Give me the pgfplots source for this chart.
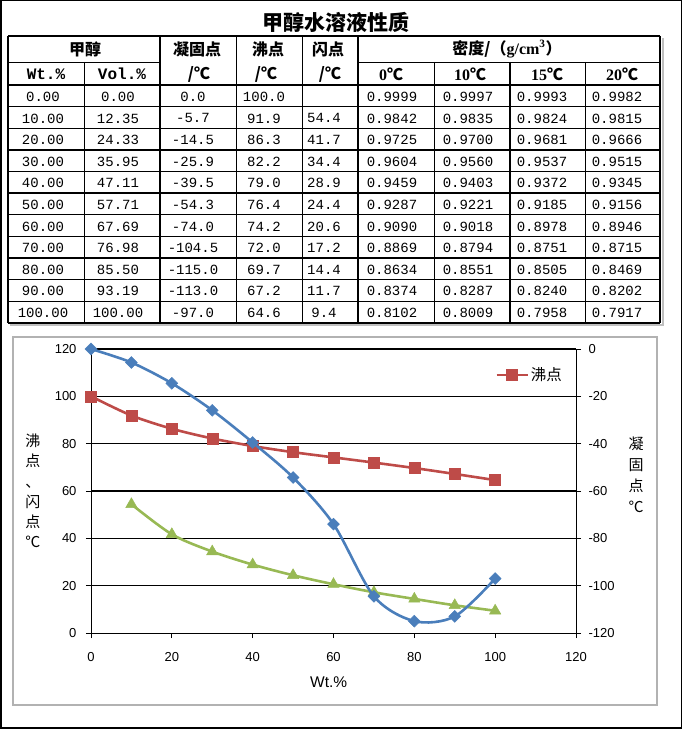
\documentclass[border=0pt]{standalone}
\usepackage{pgfplots}
\pgfplotsset{compat=1.18}
\usepackage{fontspec}
\setmainfont{Liberation Sans}
\newfontfamily\cjk{Noto Sans CJK SC}
\newfontfamily\monof{Liberation Mono}
\newfontfamily\seriff{Liberation Serif}
\definecolor{cblue}{HTML}{4A7EBB}
\definecolor{cred}{HTML}{BE4B48}
\definecolor{cgreen}{HTML}{98B954}
\begin{document}
\begin{tikzpicture}
\useasboundingbox (0,0) rectangle (682pt,729pt);
\begin{scope}[x=1pt,y=1pt]
\draw[line width=1.5pt] (0.75,0.75) rectangle (681.25,728.25);
\node[font=\cjk\bfseries\fontsize{21}{24}\selectfont] at (336,707) {甲醇水溶液性质};
% table shadow
\draw[gray!50, line width=2pt] (662.5,729-38) -- (662.5,729-325.5) -- (10,729-325.5);
% horizontal lines
\draw[line width=2pt] (8,729-36) -- (660,729-36);
\draw[line width=0.8pt] (8,729-62) -- (160,729-62);
\draw[line width=0.8pt] (358,729-62) -- (660,729-62);
\draw[line width=2pt] (8,729-85) -- (660,729-85);
\foreach \k in {1,2,4,6,7,9,10} {\draw[line width=0.8pt] (8,729-85-21.6*\k) -- (660,729-85-21.6*\k);}
\foreach \k in {3,5,8} {\draw[line width=1.8pt] (8,729-85-21.6*\k) -- (660,729-85-21.6*\k);}
\draw[line width=2pt] (8,729-323) -- (660,729-323);
% vertical lines
\draw[line width=2pt] (8,729-36) -- (8,729-323);
\draw[line width=0.8pt] (84,729-62) -- (84,729-323);
\draw[line width=2pt] (160,729-36) -- (160,729-323);
\draw[line width=0.8pt] (236,729-36) -- (236,729-323);
\draw[line width=0.8pt] (302,729-36) -- (302,729-323);
\draw[line width=2pt] (358,729-36) -- (358,729-323);
\draw[line width=0.8pt] (434,729-62) -- (434,729-323);
\draw[line width=2pt] (510,729-62) -- (510,729-323);
\draw[line width=0.8pt] (585,729-62) -- (585,729-323);
\draw[line width=2pt] (660,729-36) -- (660,729-323);
% header text
\begin{scope}[every node/.style={font=\cjk\bfseries\fontsize{16}{18}\selectfont}]
\node at (85,729-49) {甲醇};
\node at (46,729-74) {{\monof\bfseries Wt.\%}};
\node at (122,729-74) {{\monof\bfseries Vol.\%}};
\node at (197,729-49) {凝固点};
\node at (199,729-74) {/℃};
\node at (268,729-49) {沸点};
\node at (266,729-74) {/℃};
\node at (328,729-49) {闪点};
\node at (330,729-74) {/℃};
\node at (507,729-49) {密度/（{\seriff\bfseries g/cm}\textsuperscript{\seriff\bfseries 3}）};
\node at (391,729-74) {{\seriff\bfseries 0}℃};
\node at (470,729-74) {{\seriff\bfseries 10}℃};
\node at (547,729-74) {{\seriff\bfseries 15}℃};
\node at (622,729-74) {{\seriff\bfseries 20}℃};
\end{scope}
% data text
\begin{scope}[every node/.style={font=\monof\fontsize{14}{16}\selectfont}]
\foreach \a/\b/\c/\d/\e/\f/\g/\h/\i [count=\k from 0] in {
0.00/0.00/0.0/100.0//0.9999/0.9997/0.9993/0.9982,
10.00/12.35/-5.7/91.9/54.4/0.9842/0.9835/0.9824/0.9815,
20.00/24.33/-14.5/86.3/41.7/0.9725/0.9700/0.9681/0.9666,
30.00/35.95/-25.9/82.2/34.4/0.9604/0.9560/0.9537/0.9515,
40.00/47.11/-39.5/79.0/28.9/0.9459/0.9403/0.9372/0.9345,
50.00/57.71/-54.3/76.4/24.4/0.9287/0.9221/0.9185/0.9156,
60.00/67.69/-74.0/74.2/20.6/0.9090/0.9018/0.8978/0.8946,
70.00/76.98/-104.5/72.0/17.2/0.8869/0.8794/0.8751/0.8715,
80.00/85.50/-115.0/69.7/14.4/0.8634/0.8551/0.8505/0.8469,
90.00/93.19/-113.0/67.2/11.7/0.8374/0.8287/0.8240/0.8202,
100.00/100.00/-97.0/64.6/9.4/0.8102/0.8009/0.7958/0.7917} {
\pgfmathsetmacro{\yy}{729-96.8-21.6*\k}
\node at (43,\yy) {\a};
\node at (118,\yy) {\b};
\node at (193,\yy) {\c};
\node at (264,\yy) {\d};
\node at (324,\yy) {\e};
\node at (392,\yy) {\f};
\node at (468,\yy) {\g};
\node at (542,\yy) {\h};
\node at (617,\yy) {\i};
}
\end{scope}
% chart box
\draw[gray!60, line width=1.5pt] (13,729-337) rectangle (657,729-705);
\end{scope}

\pgfplotsset{
  common/.style={
    at={(91pt,96pt)}, anchor=south west, scale only axis,
    width=485pt, height=284pt, xmin=0, xmax=120, clip=false,
    tick align=outside, major tick length=5pt,
    tick style={black, line width=0.8pt},
    axis line style={black, line width=0.8pt, -},
    /pgf/number format/assume math mode=true,
    ticklabel style={font=\fontsize{13}{15}\selectfont},
  }
}
\begin{axis}[common,
  ymin=0, ymax=120,
  axis x line*=bottom, axis y line*=left,
  xtick={0,20,...,120}, ytick={0,20,...,120},
  ymajorgrids, grid style={black, line width=0.8pt},
  extra y ticks={60,120}, extra y tick labels={},
  extra y tick style={grid style={black, line width=2pt}, major tick length=0pt},
  xticklabel style={yshift=-11pt},
  yticklabel style={xshift=-6pt},
  xlabel={Wt.\%},
  xlabel style={at={(axis description cs:0.49,0)}, anchor=center, yshift=-49pt, font=\fontsize{15.5}{17}\selectfont},
  ylabel={沸\\点\\、\\闪\\点\\℃},
  every axis y label/.style={at={(axis description cs:0,0.5)}, anchor=center, xshift=-58pt, align=center, font=\cjk\fontsize{15}{20.3}\selectfont},
  legend style={draw=none, fill=none, at={(axis cs:100,109)}, anchor=west, inner sep=0pt, font=\cjk\fontsize{15.5}{18}\selectfont},
  legend image code/.code={\draw[mark repeat=2,mark phase=2,#1] plot coordinates {(0pt,0pt) (15.5pt,0pt) (31pt,0pt)};},
]
\addplot[cred, line width=2.6pt, smooth, mark=square*, mark size=5.5pt, mark options={fill=cred, solid, line width=0.5pt}]
coordinates {(0,100.0) (10,91.9) (20,86.3) (30,82.2) (40,79.0) (50,76.4) (60,74.2) (70,72.0) (80,69.7) (90,67.2) (100,64.6)};
\addlegendentry{沸点}
\addplot[cgreen, line width=2.6pt, smooth, mark=triangle*, mark size=6.5pt, mark options={fill=cgreen, solid, line width=0.5pt}, forget plot]
coordinates {(10,54.4) (20,41.7) (30,34.4) (40,28.9) (50,24.4) (60,20.6) (70,17.2) (80,14.4) (90,11.7) (100,9.4)};
\end{axis}
\begin{axis}[common,
  ymin=-120, ymax=0,
  axis x line=none, axis y line*=right,
  ytick={-120,-100,...,0},
  yticklabel style={xshift=4pt},
  ylabel={凝\\固\\点\\℃},
  every axis y label/.style={at={(axis description cs:1,0.5)}, anchor=center, xshift=60pt, yshift=16pt, align=center, font=\cjk\fontsize{15}{21}\selectfont},
]
\addplot[cblue, line width=2.6pt, smooth, mark=square*, mark size=4.2pt, mark options={rotate=45, fill=cblue, solid, line width=0.5pt}]
coordinates {(0,0.0) (10,-5.7) (20,-14.5) (30,-25.9) (40,-39.5) (50,-54.3) (60,-74.0) (70,-104.5) (80,-115.0) (90,-113.0) (100,-97.0)};
\end{axis}
\end{tikzpicture}
\end{document}
